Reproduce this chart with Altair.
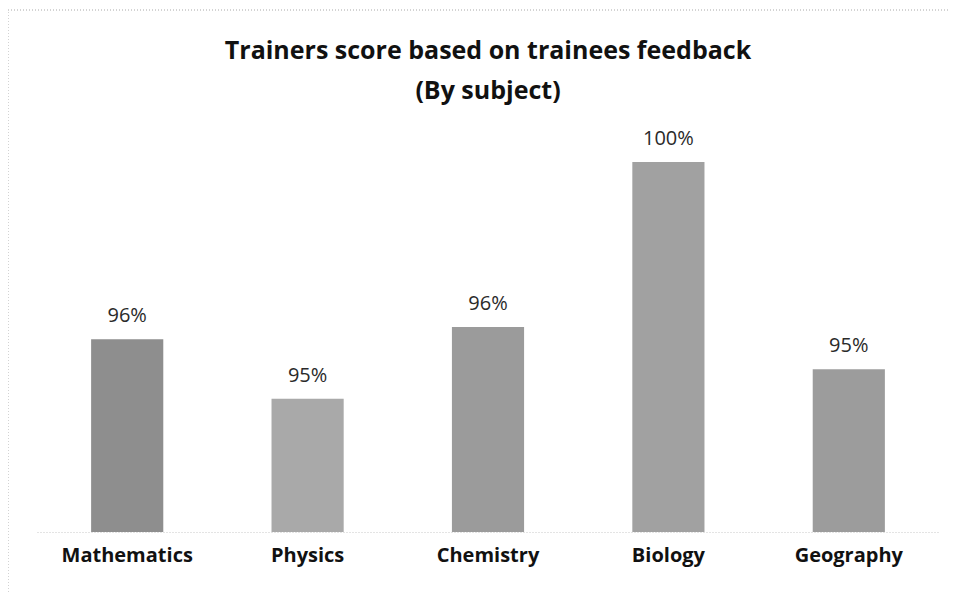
import altair as alt
import pandas as pd

subjects = ["Mathematics", "Physics", "Chemistry", "Biology", "Geography"]
scores = [95.93, 94.56, 96.21, 100.0, 95.24]
shades = ["#8e8e8e", "#a9a9a9", "#9b9b9b", "#a1a1a1", "#9c9c9c"]

df = pd.DataFrame({"subject": subjects, "score": scores})

FONT = "Open Sans"

xenc = alt.X("subject:N", sort=subjects,
             scale=alt.Scale(paddingInner=0.6, paddingOuter=0.3),
             axis=alt.Axis(title=None, labelAngle=0, ticks=False, domain=True,
                           domainColor="#c8c8c8", domainDash=[1, 2], domainWidth=1,
                           labelFont=FONT, labelFontWeight="bold", labelFontSize=20,
                           labelColor="#111111", labelPadding=13, labelBaseline="top"))
yenc = alt.Y("score:Q", scale=alt.Scale(domain=[91.5, 100], zero=False, nice=False),
             axis=None)

bars = alt.Chart(df).mark_bar(stroke=None, clip=True).encode(
    x=xenc, y=yenc,
    color=alt.Color("subject:N", scale=alt.Scale(domain=subjects, range=shades), legend=None),
)

labels = alt.Chart(df).transform_calculate(
    lab="format(datum.score, '.0f') + '%'"
).mark_text(font=FONT, fontSize=20, color="#2a2a2a", baseline="bottom", dy=-13).encode(
    x=alt.X("subject:N", sort=subjects), y=yenc, text="lab:N"
)

frame = alt.Chart(pd.DataFrame({"a": [0]})).mark_rect(
    fill=None, stroke="#a8a8a8", strokeDash=[1, 2], strokeWidth=1
).encode(x=alt.value(-29), x2=alt.value(930), y=alt.value(-152), y2=alt.value(440))

chart = alt.layer(frame, bars, labels).properties(
    width=902, height=370,
    title=alt.TitleParams(
        text=["Trainers score based on trainees feedback", "(By subject)"],
        font=FONT, fontSize=25, fontWeight="bold", color="#111111",
        anchor="middle", lineHeight=40, offset=-94,
    ),
    autosize=alt.AutoSizeParams(type="none"),
    padding={"left": 29, "top": 154, "right": 9, "bottom": 60},
    background="white",
).configure_view(stroke=None)

chart.save("out.html", embed_options={"renderer": "svg", "actions": False})
